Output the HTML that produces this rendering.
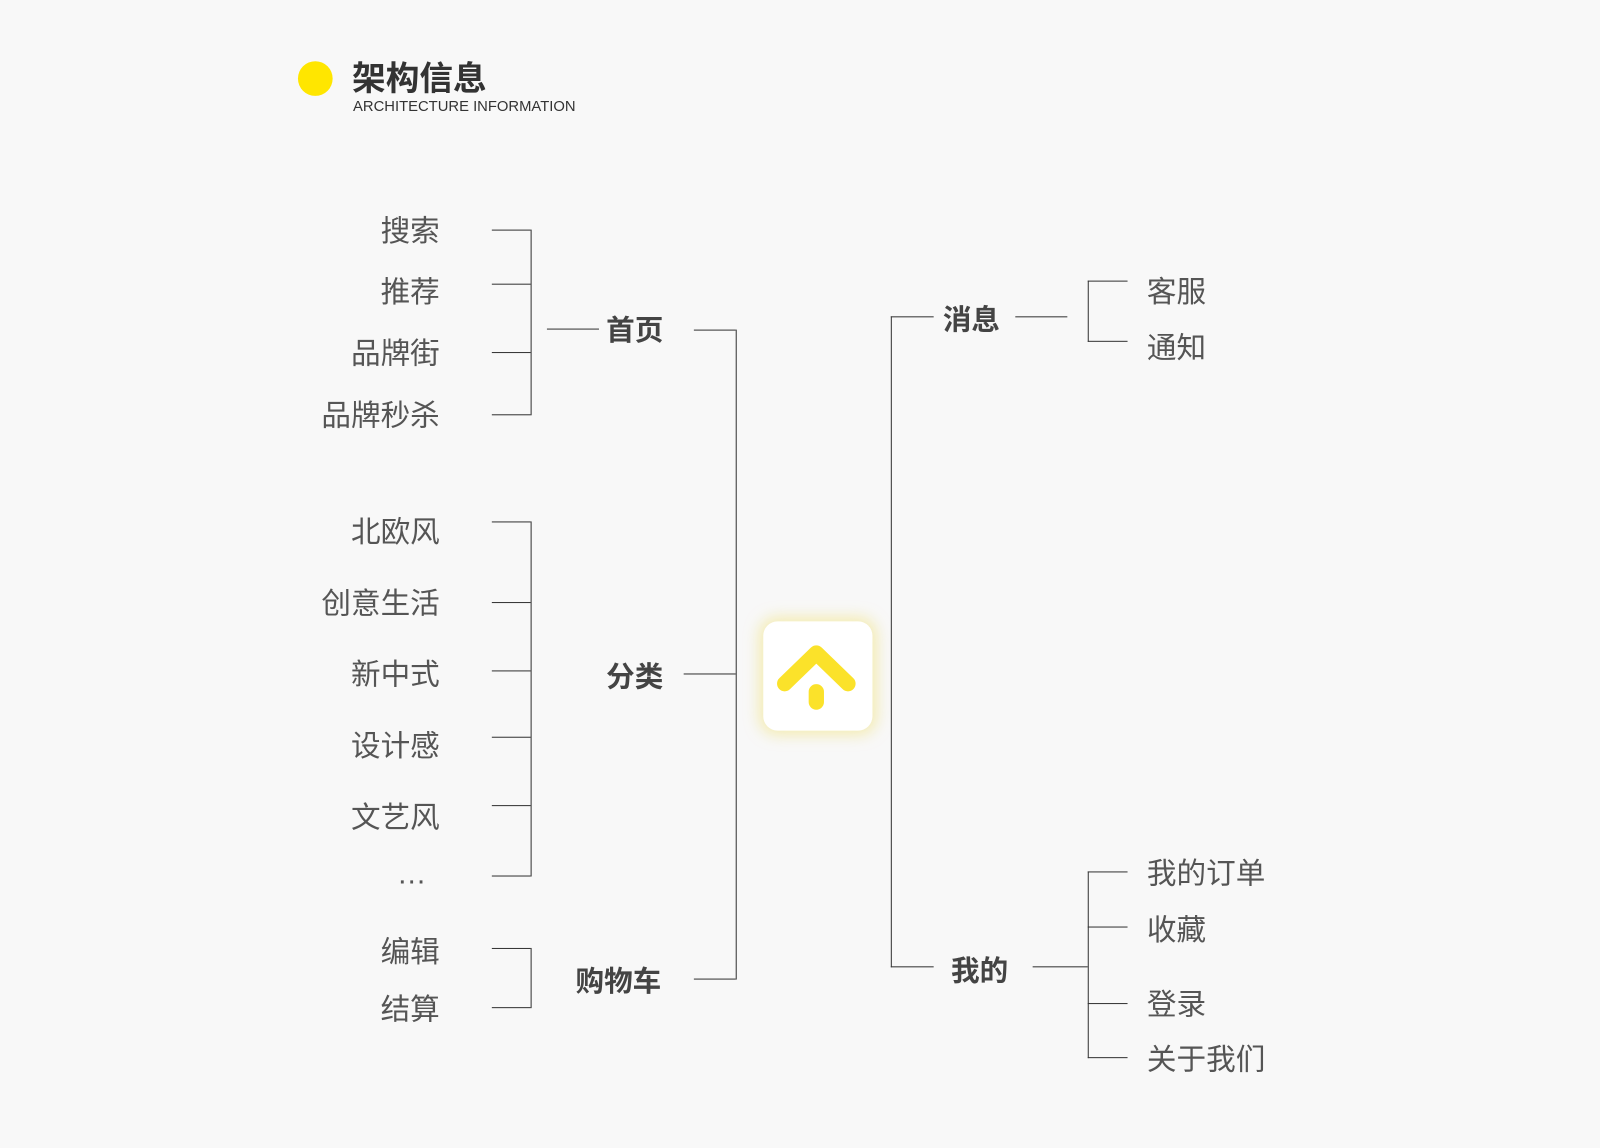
<!DOCTYPE html>
<html><head><meta charset="utf-8"><style>
html,body{margin:0;padding:0;background:#f8f8f8;}
body{width:1600px;height:1148px;overflow:hidden;position:relative;}
#w{position:absolute;left:0;top:0;width:1568px;height:1125px;transform:scale(1.0204);transform-origin:0 0;font-family:"Liberation Sans","Noto Sans CJK SC",sans-serif;}
.t{position:absolute;font-size:29px;color:#555;line-height:32px;white-space:nowrap;transform:translateY(-14px);}
.r{text-align:right;width:200px;}
.b{font-weight:bold;color:#444;font-size:28px;}
.h{position:absolute;height:1px;background:#333;}
.v{position:absolute;width:1px;background:#333;}
</style></head><body><div id="w">
<div style="position:absolute;left:292px;top:60px;width:34px;height:34px;border-radius:50%;background:#ffe600"></div>
<div style="position:absolute;left:345px;top:57px;font-size:33px;font-weight:bold;color:#333;line-height:40px">架构信息</div>
<div style="position:absolute;left:346px;top:97px;font-size:14.5px;color:#333;line-height:16px">ARCHITECTURE INFORMATION</div>

<div class="t r" style="left:231px;top:225px">搜索</div>
<div class="t r" style="left:231px;top:285px">推荐</div>
<div class="t r" style="left:231px;top:345px">品牌街</div>
<div class="t r" style="left:231px;top:406px">品牌秒杀</div>
<div class="h" style="left:482px;width:38px;top:225px"></div>
<div class="h" style="left:482px;width:38px;top:278px"></div>
<div class="h" style="left:482px;width:38px;top:345px"></div>
<div class="h" style="left:482px;width:38px;top:406px"></div>
<div class="v" style="left:520px;top:225px;height:182px"></div>
<div class="h" style="left:536px;width:51px;top:322px"></div>
<div class="t b" style="left:594px;top:322px">首页</div>
<div class="h" style="left:680px;width:41px;top:323px"></div>
<div class="v" style="left:721px;top:323px;height:637px"></div>

<div class="t r" style="left:231px;top:520px">北欧风</div>
<div class="t r" style="left:231px;top:590px">创意生活</div>
<div class="t r" style="left:231px;top:660px">新中式</div>
<div class="t r" style="left:231px;top:730px">设计感</div>
<div class="t r" style="left:231px;top:800px">文艺风</div>
<div class="t r" style="left:218px;top:855px">…</div>
<div class="h" style="left:482px;width:38px;top:511px"></div>
<div class="h" style="left:482px;width:38px;top:590px"></div>
<div class="h" style="left:482px;width:38px;top:657px"></div>
<div class="h" style="left:482px;width:38px;top:722px"></div>
<div class="h" style="left:482px;width:38px;top:789px"></div>
<div class="h" style="left:482px;width:38px;top:858px"></div>
<div class="v" style="left:520px;top:511px;height:348px"></div>
<div class="t b" style="left:594px;top:662px">分类</div>
<div class="h" style="left:670px;width:51px;top:660px"></div>

<div class="t r" style="left:231px;top:932px">编辑</div>
<div class="t r" style="left:231px;top:988px">结算</div>
<div class="h" style="left:482px;width:38px;top:929px"></div>
<div class="h" style="left:482px;width:38px;top:987px"></div>
<div class="v" style="left:520px;top:929px;height:59px"></div>
<div class="t b" style="left:564px;top:960px">购物车</div>
<div class="h" style="left:680px;width:41px;top:959px"></div>

<div style="position:absolute;left:748px;top:609px;width:107px;height:107px;border-radius:14px;background:#fff;box-shadow:0 0 14px 4px rgba(240,225,120,0.55)"></div>
<svg style="position:absolute;left:748px;top:609px" width="107" height="107"><g stroke="#fbe22a" stroke-width="15" stroke-linecap="round" fill="none" stroke-linejoin="round"><polyline points="21,61 52,31 83,61"/><line x1="52" y1="69" x2="52" y2="79"/></g></svg>

<div class="v" style="left:873px;top:310px;height:638px"></div>
<div class="h" style="left:873px;width:42px;top:310px"></div>
<div class="t b" style="left:924px;top:312px">消息</div>
<div class="h" style="left:995px;width:51px;top:310px"></div>
<div class="v" style="left:1066px;top:275px;height:60px"></div>
<div class="h" style="left:1066px;width:39px;top:275px"></div>
<div class="h" style="left:1066px;width:39px;top:334px"></div>
<div class="t" style="left:1124px;top:285px">客服</div>
<div class="t" style="left:1124px;top:340px">通知</div>

<div class="h" style="left:873px;width:42px;top:947px"></div>
<div class="t b" style="left:932px;top:950px">我的</div>
<div class="h" style="left:1012px;width:54px;top:947px"></div>
<div class="v" style="left:1066px;top:854px;height:183px"></div>
<div class="h" style="left:1066px;width:39px;top:854px"></div>
<div class="h" style="left:1066px;width:39px;top:908px"></div>
<div class="h" style="left:1066px;width:39px;top:983px"></div>
<div class="h" style="left:1066px;width:39px;top:1036px"></div>
<div class="t" style="left:1124px;top:855px">我的订单</div>
<div class="t" style="left:1124px;top:910px">收藏</div>
<div class="t" style="left:1124px;top:983px">登录</div>
<div class="t" style="left:1124px;top:1037px">关于我们</div>
</div></body></html>
